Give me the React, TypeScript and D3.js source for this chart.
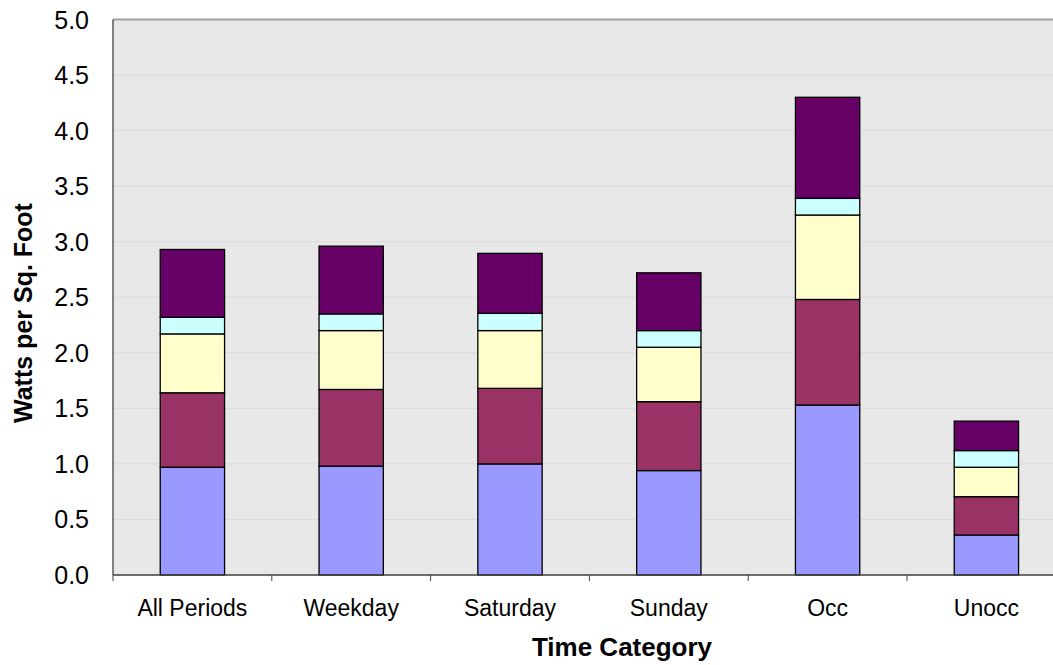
import React from "react";
import * as d3 from "d3";

const categories = ["All Periods", "Weekday", "Saturday", "Sunday", "Occ", "Unocc"];
const seriesNames = ["s1", "s2", "s3", "s4", "s5"];
const s1 = [0.97, 0.98, 1.0, 0.94, 1.53, 0.36];
const s2 = [0.67, 0.69, 0.68, 0.62, 0.95, 0.345];
const s3 = [0.53, 0.53, 0.52, 0.49, 0.76, 0.265];
const s4 = [0.15, 0.15, 0.155, 0.15, 0.15, 0.15];
const s5 = [0.61, 0.61, 0.54, 0.52, 0.91, 0.265];
const colors = ["#9999ff", "#993366", "#ffffcc", "#ccffff", "#660066"];
const yTicks = [0, 0.5, 1, 1.5, 2, 2.5, 3, 3.5, 4, 4.5, 5];

const W = 1053, H = 665;
const left = 113, top = 19.5, bottom = 575;
const band = 158.8;
const right = left + band * categories.length;

export default function App() {
  const x = d3.scaleBand<string>().domain(categories).range([left, right]).paddingInner(0).paddingOuter(0);
  const y = d3.scaleLinear().domain([0, 5]).range([bottom, top]);
  const rows = categories.map((c, i) => ({ cat: c, s1: s1[i], s2: s2[i], s3: s3[i], s4: s4[i], s5: s5[i] }));
  const stacked = d3.stack<any>().keys(seriesNames)(rows);
  const bw = band * 0.405;
  const font = "Arial, 'Liberation Sans', sans-serif";
  return (
    <svg width={W} height={H} style={{ position: "absolute", left: 0, top: 0, background: "#fff" }} fontFamily={font}>
      <rect x={left} y={top} width={right - left} height={bottom - top} fill="#e8e8e8" />
      {yTicks.filter((t) => t > 0 && t < 5).map((t) => (
        <line key={t} x1={left} x2={right} y1={y(t)} y2={y(t)} stroke="#dadada" strokeWidth={1} />
      ))}
      <line x1={left} x2={right} y1={top} y2={top} stroke="#a0a0a0" strokeWidth={2} />
      {stacked.map((layer, si) =>
        layer.map((d, i) => {
          const cx = (x(categories[i]) as number) + band / 2;
          return (
            <rect key={si + "-" + i} x={cx - bw / 2} y={y(d[1])} width={bw} height={y(d[0]) - y(d[1])}
              fill={colors[si]} stroke="#000" strokeWidth={1.3} />
          );
        })
      )}
      <line x1={left} x2={left} y1={top} y2={bottom} stroke="#404040" strokeWidth={1.3} />
      <line x1={left} x2={right} y1={bottom} y2={bottom} stroke="#404040" strokeWidth={1.3} />
      {d3.range(categories.length + 1).map((i) => (
        <line key={i} x1={left + i * band} x2={left + i * band} y1={bottom} y2={bottom + 6} stroke="#404040" strokeWidth={1} />
      ))}
      {yTicks.map((t) => (
        <text key={t} x={89} y={y(t)} dy="0.36em" textAnchor="end" fontSize={25} fill="#000">
          {t.toFixed(1)}
        </text>
      ))}
      {categories.map((c) => (
        <text key={c} x={(x(c) as number) + band / 2} y={616} textAnchor="middle" fontSize={23} fill="#000">
          {c}
        </text>
      ))}
      <text x={622} y={656} textAnchor="middle" fontSize={26} fontWeight="bold" fill="#000">
        Time Category
      </text>
      <text transform={`translate(32,313) rotate(-90)`} textAnchor="middle" fontSize={25} fontWeight="bold" fill="#000">
        Watts per Sq. Foot
      </text>
    </svg>
  );
}
